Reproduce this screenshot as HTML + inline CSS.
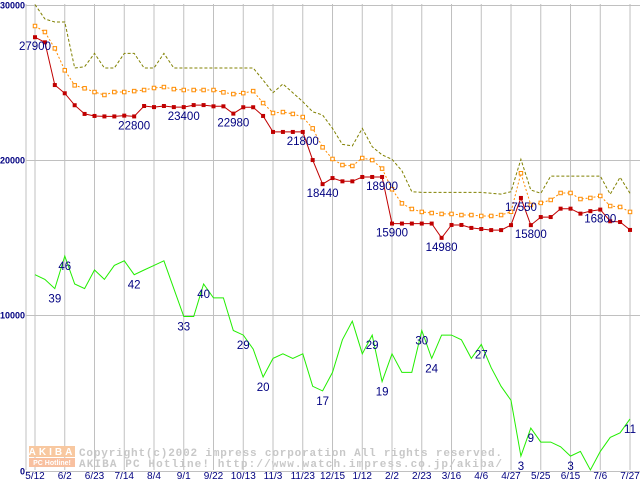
<!DOCTYPE html>
<html><head><meta charset="utf-8"><style>
html,body{margin:0;padding:0;background:#fff;}
svg{display:block;font-family:"Liberation Sans",sans-serif;}
</style></head><body>
<svg id="chart" width="640" height="480" viewBox="0 0 640 480" xmlns="http://www.w3.org/2000/svg">
<g id="grid"></g>
<g id="wm">
 <rect x="29" y="446" width="46" height="11" fill="#f8c8a0"/>
 <rect x="29" y="458" width="46" height="9" fill="#f8c0a0"/>
 <text x="52" y="455" font-size="10" font-weight="bold" fill="#fff" text-anchor="middle" letter-spacing="3">AKIBA</text>
 <text x="52" y="465" font-size="7" font-weight="bold" fill="#fff" text-anchor="middle">PC Hotline!</text>
 <text x="79" y="456" font-family="Liberation Mono,monospace" font-size="11" font-weight="bold" fill="#c8c8c8" textLength="423" lengthAdjust="spacing">Copyright(c)2002 impress corporation All rights reserved.</text>
 <text x="79" y="467" font-family="Liberation Mono,monospace" font-size="11" font-weight="bold" fill="#c8c8c8" textLength="423" lengthAdjust="spacing">AKIBA PC Hotline!  http://www.watch.impress.co.jp/akiba/</text>
</g>
<g id="series"></g>
<g id="labels"></g>
</svg>
<script>
const xTickLabels=["5/12","6/2","6/23","7/14","8/4","9/1","9/22","10/13","11/3","11/23","12/15","1/12","2/2","2/23","3/16","4/6","4/27","5/25","6/15","7/6","7/27"];
const yTickValues=[0,10000,20000,30000];
const minPrice=[27900,27570,24820,24290,23520,22960,22830,22800,22800,22850,22800,23470,23400,23470,23400,23400,23530,23530,23450,23450,22980,23390,23390,22830,21800,21800,21800,21800,19990,18440,18830,18620,18620,18900,18900,18900,15900,15900,15900,15900,15900,14980,15810,15810,15620,15550,15480,15480,15800,17550,15800,16320,16320,16860,16860,16540,16700,16800,16050,16000,15490];
const avgPrice=[28620,28235,27180,25770,24800,24610,24370,24180,24370,24370,24430,24500,24630,24690,24560,24500,24500,24500,24500,24350,24240,24300,24430,23660,23020,23080,22960,22760,22030,20810,20060,19670,19610,20120,19990,19440,18110,17200,16840,16650,16580,16520,16520,16450,16450,16390,16390,16450,16660,19140,17100,17230,17420,17870,17870,17480,17550,17680,17030,16970,16650];
const maxPrice=[30000,29070,28880,28880,25920,26000,26860,25920,25920,26860,26860,25920,25920,26860,25920,25920,25920,25920,25920,25920,25920,25920,25920,25140,24330,24890,24330,23750,23100,22890,22030,21000,20900,22030,20850,20320,20040,19300,17950,17910,17910,17910,17910,17910,17910,17910,17850,17800,17950,20040,18060,17850,18960,18960,18960,18960,18960,18960,17790,18880,17850];
const shopCount=[42,41,39,46,40,39,43,41,44,45,42,43,44,45,39,33,33,40,37,37,30,29,26,20,24,25,24,25,18,17,21,28,32,25,29,19,25,21,21,30,24,29,29,28,24,27,22,18,15,3,9,6,6,5,3,4,0,4,7,8,11];
const priceLabelIdx=[0,10,15,20,27,29,35,36,41,49,50,57];
const countLabelIdx=[2,3,10,15,17,21,23,29,34,35,39,40,45,49,50,54,60];

const NS="http://www.w3.org/2000/svg";
const X0=35, DX=9.917;
function xAt(i){return X0+i*DX;}
function yPrice(v){return 470.5-v*0.01553;}
function yCount(v){return 470-v*4.65;}
function mk(tag,attrs,parent){const e=document.createElementNS(NS,tag);for(const k in attrs)e.setAttribute(k,attrs[k]);parent.appendChild(e);return e;}

const grid=document.getElementById('grid');
xTickLabels.forEach((lab,j)=>{
  const x=xAt(j*3);
  const l=mk('line',{x1:x,y1:4,x2:x,y2:470,stroke:'#c0c0c0','stroke-width':1},grid);
  
  
  const t=mk('text',{x:x,y:479,'font-size':10,fill:'#000080','text-anchor':'middle'},grid);
  t.textContent=lab;
  
  
});
const ax=mk('line',{x1:26,y1:4,x2:26,y2:470,stroke:'#c0c0c0','stroke-width':1},grid);


yTickValues.forEach(v=>{
  const y=Math.round(yPrice(v))+0.5;
  const l=mk('line',{x1:26,y1:y,x2:640,y2:y,stroke:'#c0c0c0','stroke-width':1},grid);
  
  
  const t=mk('text',{x:v===0?20:0,y:y+3,'font-size':9,'font-weight':'bold',fill:'#000080'},grid);
  t.textContent=String(v);
  
  
});

const ser=document.getElementById('series');
function pts(arr,fy){return arr.map((v,i)=>xAt(i).toFixed(1)+','+fy(v).toFixed(1)).join(' ');}
const pMax=mk('polyline',{points:pts(maxPrice,yPrice),fill:'none',stroke:'#808000','stroke-width':1,'stroke-dasharray':'3,2'},ser);


const pAvg=mk('polyline',{points:pts(avgPrice,yPrice),fill:'none',stroke:'#ff8c00','stroke-width':1,'stroke-dasharray':'2,2'},ser);


avgPrice.forEach((v,i)=>{
  const r=mk('rect',{x:xAt(i)-1.75,y:yPrice(v)-1.75,width:3.5,height:3.5,fill:'#fff',stroke:'#ff8c00','stroke-width':1},ser);
  
  
});
const pMin=mk('polyline',{points:pts(minPrice,yPrice),fill:'none',stroke:'#c00000','stroke-width':1},ser);


minPrice.forEach((v,i)=>{
  const r=mk('rect',{x:xAt(i)-2,y:yPrice(v)-2,width:4,height:4,fill:'#c00000'},ser);
  
  
});
const pCnt=mk('polyline',{points:pts(shopCount,yCount),fill:'none',stroke:'#22ee00','stroke-width':1},ser);



const labs=document.getElementById('labels');
priceLabelIdx.forEach(i=>{
  const t=mk('text',{x:xAt(i),y:yPrice(minPrice[i])+13,'font-size':11.5,fill:'#000080','text-anchor':'middle'},labs);
  t.textContent=String(minPrice[i]);
  
  
});
countLabelIdx.forEach(i=>{
  const t=mk('text',{x:xAt(i),y:yCount(shopCount[i])+14,'font-size':11.5,fill:'#000080','text-anchor':'middle'},labs);
  t.textContent=String(shopCount[i]);
  
  
});
</script>
</body></html>
